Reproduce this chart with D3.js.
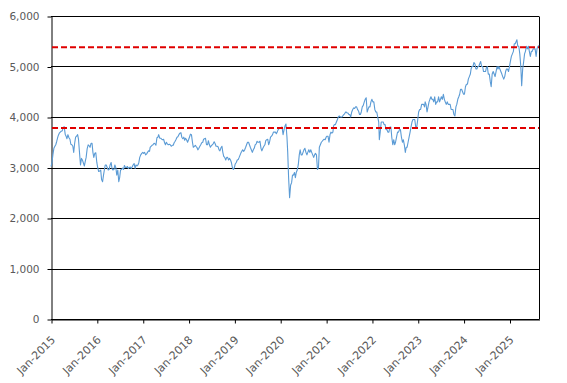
<!DOCTYPE html>
<html><head><meta charset="utf-8">
<script src="https://cdn.jsdelivr.net/npm/d3@7"></script>
<style>html,body{margin:0;padding:0;background:#fff;}svg{display:block;}</style>
</head><body>
<svg id="chart" width="567" height="383"></svg>
<script>
const pointDays = [1, 8, 16, 24];
const startYear = 2015;
const v2015 = [3020,3080,3250,3380, 3420,3450,3520,3600, 3640,3680,3700,3720, 3730,3790,3810,3660, 3620,3570,3650,3590, 3560,3460,3450,3420, 3300,3470,3600,3620, 3650,3560,3300,3050, 3180,3150,3090,3030, 3120,3200,3370,3450, 3430,3400,3480,3480, 3300,3200,3280,3290];
const v2016 = [3100,3000,2920,2930, 2950,2760,2720,2860, 2950,3050,3050,3000, 2950,2960,3050,3100, 2980,2950,2960,3050, 2990,2850,2950,2720, 2800,2950,2960,2990, 2960,3040,3000,3000, 3020,2980,3000,3010, 2980,3010,3050,3080, 2980,3050,3030,3050, 3100,3200,3250,3280];
const v2017 = [3300,3280,3300,3250, 3270,3300,3330,3320, 3400,3420,3440,3450, 3480,3470,3440,3590, 3600,3650,3580,3580, 3560,3550,3560,3490, 3450,3500,3470,3450, 3460,3450,3420,3440, 3440,3490,3520,3560, 3600,3610,3650,3680, 3690,3600,3570,3600, 3540,3580,3550,3500];
const v2018 = [3550,3600,3660,3650, 3500,3400,3420,3440, 3420,3400,3350,3380, 3420,3450,3490,3500, 3560,3570,3580,3450, 3450,3530,3450,3400, 3430,3450,3470,3510, 3470,3420,3420,3410, 3350,3330,3390,3420, 3300,3220,3200,3150, 3200,3200,3150,3180, 3150,3100,3000,2960];
const v2019 = [3000,3070,3100,3150, 3160,3200,3250,3300, 3320,3350,3320,3350, 3400,3450,3500,3500, 3450,3400,3350,3300, 3350,3380,3450,3470, 3520,3500,3500,3520, 3380,3330,3380,3420, 3450,3530,3550,3560, 3450,3500,3600,3620, 3650,3700,3700,3700, 3670,3700,3750,3770];
const v2020 = [3780,3790,3800,3650, 3750,3820,3860,3600, 3300,2800,2400,2650, 2700,2850,2850,2900, 2800,2900,2950,3050, 3250,3350,3250,3250, 3300,3350,3380,3300, 3250,3300,3350,3300, 3350,3300,3250,3200, 3250,3280,3250,2960, 3000,3400,3450,3500, 3520,3540,3560,3550];
const v2021 = [3600,3620,3620,3500, 3650,3700,3680,3700, 3820,3850,3850,3900, 3950,4000,4020,4000, 4000,4000,4030,4050, 4080,4100,4080,4080, 4050,4050,4000,4100, 4150,4180,4170,4200, 4200,4150,4120,4050, 4050,4100,4200,4230, 4300,4350,4380,4100, 4150,4200,4200,4300];
const v2022 = [4350,4300,4300,4150, 4100,4100,4000,3900, 3550,3700,3900,3900, 3900,3850,3850,3750, 3750,3700,3700,3800, 3800,3600,3450,3550, 3450,3500,3600,3700, 3700,3750,3750,3600, 3500,3550,3450,3300, 3400,3400,3500,3600, 3700,3800,3900,3950, 3950,3950,3800,3800];
const v2023 = [3950,4100,4150,4150, 4250,4250,4250,4200, 4300,4250,4100,4200, 4300,4350,4400,4350, 4350,4300,4400,4250, 4300,4300,4400,4300, 4350,4400,4350,4450, 4350,4300,4250,4300, 4250,4250,4250,4150, 4150,4150,4050,4020, 4200,4250,4350,4400, 4450,4550,4550,4500];
const v2024 = [4450,4450,4600,4650, 4650,4750,4800,4850, 4950,5000,5000,5080, 5050,4950,4950,5000, 5000,5050,5100,5000, 5000,4900,4900,4900, 4980,5000,4850,4850, 4700,4600,4850,4900, 4850,4800,4900,5000, 4950,5000,4950,4900, 4850,4800,4750,4800, 4900,4950,4950,4900];
const v2025 = [5000,5100,5200,5250, 5300,5450,5450,5500, 5530,5400,5400,5250, 5000,4620,4950,5100, 5250,5300,5400,5350, 5400,5300,5200,5300, 5300,5350,5350,5350, 5200,5350,5400,5420];

const refLines = [5380, 3780];
const yTicks = [0, 1000, 2000, 3000, 4000, 5000, 6000];
const xTickYears = [2015, 2016, 2017, 2018, 2019, 2020, 2021, 2022, 2023, 2024, 2025];

const allValues = [].concat(v2015, v2016, v2017, v2018, v2019, v2020, v2021, v2022, v2023, v2024, v2025);
const data = allValues.map((v, i) => {
  const m = Math.floor(i / 4);
  return { date: new Date(startYear + Math.floor(m / 12), m % 12, pointDays[i % 4]), value: v };
});

const plotL = 51, plotR = 539, plotT = 16, plotB = 319;
const svg = d3.select('#chart');
const x = d3.scaleTime().domain([new Date(2015, 0, 1), data[data.length - 1].date]).range([plotL, plotR]);
const y = d3.scaleLinear().domain([0, 6000]).range([plotB, plotT]);
const crisp = v => Math.round(v) + 0.5;

// gridlines
svg.append('g').selectAll('line').data(yTicks).join('line')
  .attr('x1', plotL).attr('x2', plotR)
  .attr('y1', d => crisp(y(d))).attr('y2', d => crisp(y(d)))
  .attr('stroke', '#000').attr('stroke-width', 1);

// right border
svg.append('line').attr('x1', crisp(plotR)).attr('x2', crisp(plotR))
  .attr('y1', crisp(y(6000))).attr('y2', crisp(y(0))).attr('stroke', '#000');

// y axis
const yAxis = svg.append('g').attr('transform', `translate(${crisp(plotL)},0.5)`)
  .call(d3.axisLeft(y).tickValues(yTicks).tickSize(4).tickSizeOuter(0).tickPadding(8).tickFormat(d3.format(',')));
yAxis.select('.domain').attr('stroke', '#000');
yAxis.selectAll('.tick line').attr('stroke', '#000');
yAxis.selectAll('text').attr('fill', '#595959').style('font-family', 'DejaVu Sans').style('font-size', '10.5px');

// x axis
const xAxis = svg.append('g').attr('transform', `translate(0.5,${crisp(y(0))})`)
  .call(d3.axisBottom(x).tickValues(xTickYears.map(yr => new Date(yr, 0, 1))).tickSize(4).tickSizeOuter(0)
    .tickFormat(d3.timeFormat('%b-%Y')));
xAxis.select('.domain').attr('stroke', '#000');
xAxis.selectAll('.tick line').attr('stroke', '#000');
xAxis.selectAll('text')
  .attr('fill', '#595959').style('font-family', 'DejaVu Sans').style('font-size', '11px')
  .attr('text-anchor', 'end').attr('x', 0).attr('y', 0).attr('dy', 0)
  .attr('transform', 'translate(4,21) rotate(-45)');

// series line
svg.append('path').datum(data)
  .attr('fill', 'none').attr('stroke', '#5B9BD5').attr('stroke-width', 1.1)
  .attr('stroke-linejoin', 'round')
  .attr('d', d3.line().x(d => x(d.date)).y(d => y(d.value)));

// red dashed reference lines
svg.append('g').selectAll('line').data(refLines).join('line')
  .attr('x1', plotL + 1).attr('x2', plotR)
  .attr('y1', d => y(d)).attr('y2', d => y(d))
  .attr('stroke', '#E00000').attr('stroke-width', 2).attr('stroke-dasharray', '6,3');
</script>
</body></html>
